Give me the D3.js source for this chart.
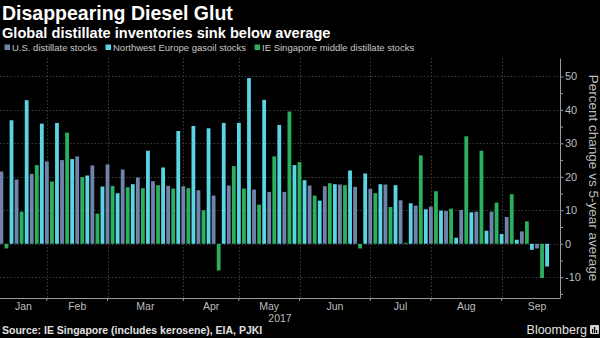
<!DOCTYPE html>
<html>
<head>
<meta charset="utf-8">
<script src="https://cdn.jsdelivr.net/npm/d3@7"></script>
<style>
body{margin:0;background:#000;}
svg{display:block;background:#000;font-family:"Liberation Sans",Arial,sans-serif;}
</style>
</head>
<body>
<svg id="chart" width="600" height="338"></svg>
<script>
// weekly readings, % vs 5-year average (null = no reading that week)
const usStocks = [21.6,19.2,20.9,24.6,25.0,26.1,23.4,23.7,22.2,19.8,18.7,17.3,17.2,16.0,14.4,17.4,null,16.2,15.5,15.5,null,17.4,17.2,17.7,17.0,16.4,17.7,13.0,11.4,11.1,9.8,10.1,9.6,9.6,8.0,3.7,-1.4];
const sgStocks = [-1.4,9.6,23.5,18.6,33.2,19.9,9.0,17.3,16.9,16.6,17.5,16.5,16.6,10.0,-8.0,23.2,16.5,11.7,26.1,39.5,24.4,14.4,18.1,17.5,-1.4,15.1,11.0,0.3,26.4,15.7,10.5,32.1,27.8,12.3,14.8,6.7,-10.2];
const nweStocks = [36.9,42.9,35.9,36.1,25.3,20.4,17.1,15.1,17.8,27.8,22.8,33.7,35.2,34.5,36.1,36.1,49.5,43.0,35.5,23.5,19.0,12.9,17.8,21.9,21.0,17.8,17.5,12.1,10.3,9.9,1.8,9.4,3.9,2.9,1.2,-1.8,-6.8];

const months = ["Jan","Feb","Mar","Apr","May","Jun","Jul","Aug","Sep"];
// first reading of each new month: [week, series]
const monthStarts = [[3,"us"],[7,"us"],[12,"us"],[15,"nwe"],[20,"sg"],[25,"us"],[29,"us"],[33,"nwe"]];
const yTicks = [-10,0,10,20,30,40,50];
const yMinor = [-15,-5,5,15,25,35,45];

const series = [
  {id:"us", name:"U.S. distillate stocks", color:"#7084ab", values:usStocks},
  {id:"sg", name:"IE Singapore middle distillate stocks", color:"#2bb05f", values:sgStocks},
  {id:"nwe", name:"Northwest Europe gasoil stocks", color:"#5bd4e4", values:nweStocks}
];
const legendOrder = ["us","nwe","sg"];

const svg = d3.select("#chart"),
plot = {left:0, right:560, top:58, bottom:298};

// one slot per reading, in the order they came in
const obs = [];
usStocks.forEach((_,w)=>{
  series.forEach(s=>{
    if(s.values[w] != null) obs.push({key:`${w}-${s.id}`, value:s.values[w], color:s.color});
  });
});

const x = d3.scaleBand()
.domain(obs.map(d=>d.key))
.range([-0.5, 549])
.paddingInner(0.25);

const y = d3.scaleLinear()
.domain([-16.2, 55.5])
.range([plot.bottom, plot.top]);

const mid = k => x(k) + x.bandwidth()/2;
const gridX = monthStarts.map(([w,s])=>mid(`${w}-${s}`));

// gridlines
const grid = svg.append("g")
.attr("stroke","#3d3d3d")
.attr("stroke-width",1)
.attr("stroke-dasharray","1.5,2");

grid.selectAll(".h").data(yTicks).join("line")
.attr("x1",plot.left).attr("x2",plot.right)
.attr("y1",d=>Math.round(y(d))+0.5).attr("y2",d=>Math.round(y(d))+0.5);

grid.selectAll(".v").data(gridX).join("line")
.attr("x1",d=>Math.round(d)+0.5).attr("x2",d=>Math.round(d)+0.5)
.attr("y1",plot.top).attr("y2",plot.bottom);

// bars
svg.append("g").selectAll("rect").data(obs).join("rect")
.attr("x",d=>x(d.key))
.attr("width",x.bandwidth())
.attr("y",d=>y(Math.max(0,d.value)))
.attr("height",d=>Math.abs(y(d.value)-y(0)))
.attr("fill",d=>d.color);

// bottom axis
svg.append("line")
.attr("x1",plot.left).attr("x2",plot.right)
.attr("y1",plot.bottom+0.5).attr("y2",plot.bottom+0.5)
.attr("stroke","#9a9a9a");

const xAxisGroup = svg.append("g")
.attr("transform",`translate(0,${plot.bottom})`)
.call(d3.axisBottom(x)
  .tickValues(monthStarts.map(([w,s])=>`${w}-${s}`))
  .tickSize(3)
  .tickFormat(""));
xAxisGroup.select(".domain").remove();
xAxisGroup.selectAll(".tick line").attr("stroke","#9a9a9a");

const bounds = [plot.left, ...gridX];
bounds.push(gridX[gridX.length-1] + (gridX[gridX.length-1] - gridX[gridX.length-2]));

svg.append("g").selectAll("text").data(months).join("text")
.attr("x",(d,i)=>(bounds[i]+bounds[i+1])/2)
.attr("y",309.5)
.attr("text-anchor","middle")
.attr("font-size",10.5)
.attr("fill","#bdbdbd")
.text(d=>d);

svg.append("text")
.attr("x",(plot.left+plot.right)/2)
.attr("y",321.5)
.attr("text-anchor","middle")
.attr("font-size",10.5)
.attr("fill","#bdbdbd")
.text("2017");

// right axis
const yAxisGroup = svg.append("g")
.attr("transform",`translate(${plot.right},0)`)
.call(d3.axisRight(y).tickValues(yTicks).tickSize(3.5).tickSizeOuter(0).tickPadding(1.5).tickFormat(d=>d));
yAxisGroup.select(".domain").attr("stroke","#9a9a9a");
yAxisGroup.selectAll(".tick line").attr("stroke","#9a9a9a");
yAxisGroup.selectAll(".tick text")
.attr("font-size",11)
.attr("font-family","'Liberation Sans',Arial,sans-serif")
.attr("fill","#bdbdbd");

const minorAxis = svg.append("g")
.attr("transform",`translate(${plot.right},0)`)
.call(d3.axisRight(y).tickValues(yMinor).tickSize(3).tickFormat(""));
minorAxis.select(".domain").remove();
minorAxis.selectAll(".tick line").attr("stroke","#9a9a9a");

svg.append("text")
.attr("transform",`translate(589,${(plot.top+plot.bottom)/2 - 0}) rotate(90)`)
.attr("text-anchor","middle")
.attr("font-size",13.5)
.attr("fill","#bdbdbd")
.text("Percent change vs 5-year average");

// titles
svg.append("text")
.attr("x",2).attr("y",20)
.attr("font-size",19.5)
.attr("font-weight","bold")
.attr("fill","#fff")
.text("Disappearing Diesel Glut");

svg.append("text")
.attr("x",2).attr("y",37.5)
.attr("font-size",14.6)
.attr("font-weight","bold")
.attr("fill","#fff")
.text("Global distillate inventories sink below average");

// legend
const legend = svg.append("g").attr("transform","translate(4.5,51)");
let lx = 0;
legendOrder.forEach(id=>{
  const s = series.find(d=>d.id===id);
  legend.append("rect")
  .attr("x",lx).attr("y",-6.5)
  .attr("width",5.5).attr("height",5.5)
  .attr("fill",s.color);
  const t = legend.append("text")
  .attr("x",lx+7.5)
  .attr("font-size",9.5)
  .attr("fill","#c8c8c8")
  .text(s.name);
  lx += 7.5 + t.node().getComputedTextLength() + 8.5;
});

// footer
svg.append("text")
.attr("x",2).attr("y",334)
.attr("font-size",10.5)
.attr("font-weight","bold")
.attr("fill","#e0e0e0")
.text("Source: IE Singapore (includes kerosene), EIA, PJKI");

svg.append("text")
.attr("x",587).attr("y",334)
.attr("text-anchor","end")
.attr("font-size",12.5)
.attr("fill","#e0e0e0")
.text("Bloomberg");

const logo = svg.append("g").attr("transform","translate(590,325)");
logo.append("rect").attr("width",9).attr("height",9).attr("rx",1).attr("fill","#d0d0d0");
[[2,4],[4,2],[6,5]].forEach(([bx,by])=>{
  logo.append("rect").attr("x",bx).attr("y",by).attr("width",1.2).attr("height",8-by).attr("fill","#000");
});
</script>
</body>
</html>
